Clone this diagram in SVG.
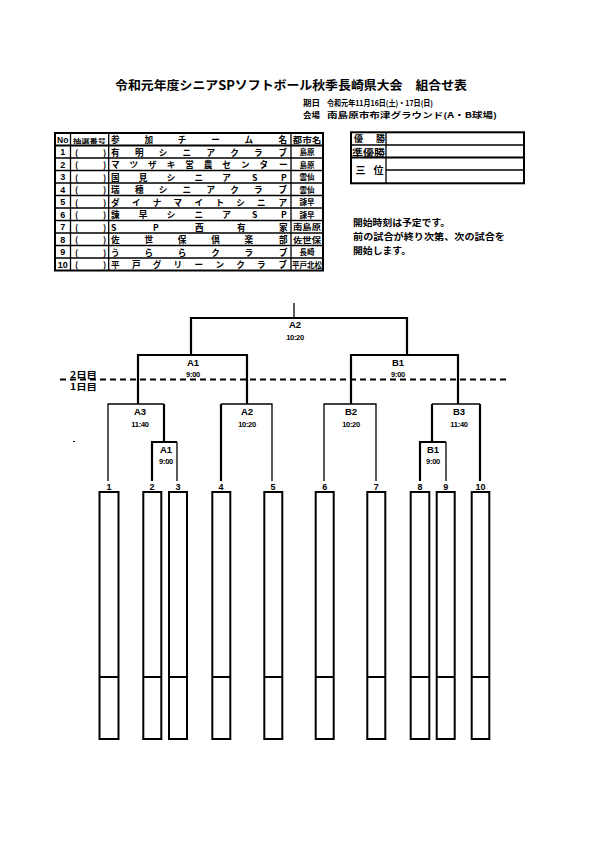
<svg xmlns="http://www.w3.org/2000/svg" width="595" height="842" viewBox="0 0 595 842">
<style>
.jp{font-family:"Noto Sans CJK JP","Noto Sans CJK SC",sans-serif;font-weight:bold;fill:#000}
.en{font-family:"Liberation Sans",Arial,sans-serif;font-weight:bold;fill:#000}
.ln{stroke:#000;fill:none;stroke-width:1.3}
.tk{stroke:#000;fill:none;stroke-width:2.2}
.bx{stroke:#000;fill:#fff;stroke-width:2}
.c{text-anchor:middle}
</style>
<rect width="595" height="842" fill="#fff"/>

<g id="title">
<text class="jp" x="115" y="90" font-size="12.5" textLength="352" lengthAdjust="spacingAndGlyphs">令和元年度シニアSPソフトボール秋季長崎県大会　組合せ表</text>
<text class="jp" x="303" y="106" font-size="7.8" textLength="17" lengthAdjust="spacingAndGlyphs">期日</text>
<text class="jp" x="327" y="106" font-size="7.8" textLength="106" lengthAdjust="spacingAndGlyphs">令和元年11月16日(土)・17日(日)</text>
<text class="jp" x="303" y="117.5" font-size="7.8" textLength="17" lengthAdjust="spacingAndGlyphs">会場</text>
<text class="jp" x="327" y="117.5" font-size="7.8" textLength="170" lengthAdjust="spacingAndGlyphs">南島原市布津グラウンド(A・B球場)</text>
</g>

<g id="team-table">
<rect x="55" y="133" width="268" height="137.5" fill="none" stroke="#000" stroke-width="2"/>
<line class="ln" x1="70.5" y1="133" x2="70.5" y2="270.5"/>
<line class="ln" x1="108.7" y1="133" x2="108.7" y2="270.5"/>
<line class="ln" x1="291" y1="133" x2="291" y2="270.5"/>
<line x1="55" y1="145.5" x2="323" y2="145.5" stroke="#000" stroke-width="1.8"/>
<g class="ln">
<line x1="55" y1="158" x2="323" y2="158"/>
<line x1="55" y1="170.5" x2="323" y2="170.5"/>
<line x1="55" y1="183" x2="323" y2="183"/>
<line x1="55" y1="195.5" x2="323" y2="195.5"/>
<line x1="55" y1="208" x2="323" y2="208"/>
<line x1="55" y1="220.5" x2="323" y2="220.5"/>
<line x1="55" y1="233" x2="323" y2="233"/>
<line x1="55" y1="245.5" x2="323" y2="245.5"/>
<line x1="55" y1="258" x2="323" y2="258"/>
</g>
<text class="en c" x="62.7" y="143" font-size="8.5">No</text>
<text class="jp c" x="89.6" y="142.5" font-size="5.5" textLength="33" lengthAdjust="spacingAndGlyphs">抽選番号</text>
<text class="jp" x="111 144.4 177.8 211.2 244.6 278.5" y="143" font-size="8.6">参加チーム名</text>
<text class="jp c" x="307" y="143" font-size="8" textLength="29" lengthAdjust="spacingAndGlyphs">都市名</text>

<g class="en c" font-size="9">
<text x="62.7" y="155">1</text>
<text x="62.7" y="167.5">2</text>
<text x="62.7" y="180">3</text>
<text x="62.7" y="192.5">4</text>
<text x="62.7" y="205">5</text>
<text x="62.7" y="217.5">6</text>
<text x="62.7" y="230">7</text>
<text x="62.7" y="242.5">8</text>
<text x="62.7" y="255">9</text>
<text x="62.7" y="267.5">10</text>
</g>
<g class="jp" font-size="8.5">
<text x="75" y="155.5">(</text><text x="103" y="155.5">)</text>
<text x="75" y="168">(</text><text x="103" y="168">)</text>
<text x="75" y="180.5">(</text><text x="103" y="180.5">)</text>
<text x="75" y="193">(</text><text x="103" y="193">)</text>
<text x="75" y="205.5">(</text><text x="103" y="205.5">)</text>
<text x="75" y="218">(</text><text x="103" y="218">)</text>
<text x="75" y="230.5">(</text><text x="103" y="230.5">)</text>
<text x="75" y="243">(</text><text x="103" y="243">)</text>
<text x="75" y="255.5">(</text><text x="103" y="255.5">)</text>
<text x="75" y="268">(</text><text x="103" y="268">)</text>
</g>
<g class="jp" font-size="8.6">
<text x="111 134.9 158.7 182.6 206.4 230.3 254.1 278.5" y="155.5">有明シニアクラブ</text>
<text x="111 129.6 148.1 166.7 185.2 203.8 222.3 240.9 259.4 279" y="168">マツザキ営農センター</text>
<text x="111 138.8 166.7 194.5 222.3 252 281" y="180.5">国見シニアSP</text>
<text x="111 134.9 158.7 182.6 206.4 230.3 254.1 278.5" y="193">瑞穂シニアクラブ</text>
<text x="111 131.9 152.8 173.6 194.5 215.4 236.3 257.1 278.5" y="205.5">ダイナマイトシニア</text>
<text x="111 138.8 166.7 194.5 222.3 252 281" y="218">諫早シニアSP</text>
<text x="111 153 195 237 279" y="230.5">SP西有家</text>
<text x="111 144.4 177.8 211.2 244.6 279" y="243">佐世保倶楽部</text>
<text x="111 144.4 177.8 211.2 244.6 279" y="255.5">うららクラブ</text>
<text x="111 131.9 152.8 173.6 194.5 215.4 236.3 257.1 278.5" y="268">平戸グリーンクラブ</text>
</g>
<g class="jp c" font-size="7.5">
<text x="307" y="155">島原</text>
<text x="307" y="167.5">島原</text>
<text x="307" y="180">雲仙</text>
<text x="307" y="192.5">雲仙</text>
<text x="307" y="205">諫早</text>
<text x="307" y="217.5">諫早</text>
<text x="307" y="230" textLength="28" lengthAdjust="spacingAndGlyphs">南島原</text>
<text x="307" y="242.5" textLength="28" lengthAdjust="spacingAndGlyphs">佐世保</text>
<text x="307" y="255">長崎</text>
<text x="307" y="267.5" textLength="30" lengthAdjust="spacingAndGlyphs">平戸北松</text>
</g>
</g>

<g id="result-table">
<rect x="351" y="132.3" width="173" height="51" fill="none" stroke="#000" stroke-width="2"/>
<line class="ln" x1="386" y1="132.3" x2="386" y2="183.3"/>
<line class="ln" x1="351" y1="145" x2="524" y2="145"/>
<line x1="351" y1="157.5" x2="524" y2="157.5" stroke="#000" stroke-width="2"/>
<line x1="386" y1="170" x2="524" y2="170" stroke="#000" stroke-width="1.5"/>
<text class="jp" x="354" y="142.4" font-size="9" textLength="31" lengthAdjust="spacing">優勝</text>
<text class="jp" x="352" y="155.6" font-size="9" textLength="33" lengthAdjust="spacingAndGlyphs">準優勝</text>
<text class="jp" x="355.5" y="174" font-size="10" textLength="28" lengthAdjust="spacing">三位</text>
</g>

<g id="note">
<text class="jp" x="353" y="226" font-size="9.3" textLength="97" lengthAdjust="spacingAndGlyphs">開始時刻は予定です。</text>
<text class="jp" x="353" y="240" font-size="9.3" textLength="152" lengthAdjust="spacingAndGlyphs">前の試合が終り次第、次の試合を</text>
<text class="jp" x="353" y="253.5" font-size="9.3" textLength="58" lengthAdjust="spacingAndGlyphs">開始します。</text>
</g>

<g id="day-divider">
<line x1="60" y1="379.5" x2="508" y2="379.5" stroke="#000" stroke-width="2" stroke-dasharray="6 4"/>
<text class="jp" x="70" y="377.5" font-size="8.2" textLength="27" lengthAdjust="spacingAndGlyphs">2日目</text>
<text class="jp" x="70" y="390" font-size="8.2" textLength="27" lengthAdjust="spacingAndGlyphs">1日目</text>
<line x1="73" y1="441.5" x2="75" y2="441.5" stroke="#000" stroke-width="1"/>
</g>

<g id="connectors">
<line class="ln" x1="294" y1="303" x2="294" y2="318"/>
<polyline class="tk" points="191,355 191,318 407,318 407,355"/>
<polyline class="tk" points="138,404 138,355 247,355 247,404"/>
<polyline class="tk" points="351,404 351,355 458,355 458,404"/>
<polyline class="ln" points="108,481 108,404 164,404"/>
<line class="tk" x1="164" y1="404" x2="164" y2="442"/>
<polyline class="tk" points="152,481 152,442 177,442"/>
<line class="ln" x1="177" y1="442" x2="177" y2="481"/>
<polyline class="ln" points="221,404 272,404 272,481"/>
<line class="tk" x1="221" y1="404" x2="221" y2="481"/>
<polyline class="ln" points="324,481 324,404 376,404 376,481"/>
<polyline class="ln" points="432,404 480,404"/>
<line class="tk" x1="480" y1="404" x2="480" y2="481"/>
<line class="tk" x1="432" y1="404" x2="432" y2="442"/>
<polyline class="tk" points="420,481 420,442 446,442"/>
<line class="ln" x1="446" y1="442" x2="446" y2="481"/>
</g>

<g id="match-labels" class="en c">
<text x="295" y="328" font-size="9.5">A2</text>
<text x="295" y="340" font-size="7.5" letter-spacing="-0.3">10:20</text>
<text x="193" y="366" font-size="9.5">A1</text>
<text x="193" y="377" font-size="7.5" letter-spacing="-0.3">9:00</text>
<text x="398" y="366" font-size="9.5">B1</text>
<text x="398" y="377" font-size="7.5" letter-spacing="-0.3">9:00</text>
<text x="140" y="415" font-size="9.5">A3</text>
<text x="140" y="427" font-size="7.5" letter-spacing="-0.3">11:40</text>
<text x="247" y="415" font-size="9.5">A2</text>
<text x="247" y="427" font-size="7.5" letter-spacing="-0.3">10:20</text>
<text x="351" y="415" font-size="9.5">B2</text>
<text x="351" y="427" font-size="7.5" letter-spacing="-0.3">10:20</text>
<text x="459" y="415" font-size="9.5">B3</text>
<text x="459" y="427" font-size="7.5" letter-spacing="-0.3">11:40</text>
<text x="166" y="453" font-size="9.5">A1</text>
<text x="166" y="464" font-size="7.5" letter-spacing="-0.3">9:00</text>
<text x="433" y="453" font-size="9.5">B1</text>
<text x="433" y="464" font-size="7.5" letter-spacing="-0.3">9:00</text>
</g>

<g id="slot-1"><text class="en c" x="109" y="489.5" font-size="9">1</text><rect class="bx" x="99.5" y="492" width="19" height="247"/><line class="bx" x1="99.5" y1="677" x2="118.5" y2="677"/></g>
<g id="slot-2"><text class="en c" x="152" y="489.5" font-size="9">2</text><rect class="bx" x="143.3" y="492" width="18" height="247"/><line class="bx" x1="143.3" y1="677" x2="161.3" y2="677"/></g>
<g id="slot-3"><text class="en c" x="178" y="489.5" font-size="9">3</text><rect class="bx" x="169" y="492" width="18" height="247"/><line class="bx" x1="169" y1="677" x2="187" y2="677"/></g>
<g id="slot-4"><text class="en c" x="221" y="489.5" font-size="9">4</text><rect class="bx" x="212.3" y="492" width="18" height="247"/><line class="bx" x1="212.3" y1="677" x2="230.3" y2="677"/></g>
<g id="slot-5"><text class="en c" x="273" y="489.5" font-size="9">5</text><rect class="bx" x="264.3" y="492" width="18" height="247"/><line class="bx" x1="264.3" y1="677" x2="282.3" y2="677"/></g>
<g id="slot-6"><text class="en c" x="324.7" y="489.5" font-size="9">6</text><rect class="bx" x="315.7" y="492" width="18" height="247"/><line class="bx" x1="315.7" y1="677" x2="333.7" y2="677"/></g>
<g id="slot-7"><text class="en c" x="376.3" y="489.5" font-size="9">7</text><rect class="bx" x="367.3" y="492" width="18" height="247"/><line class="bx" x1="367.3" y1="677" x2="385.3" y2="677"/></g>
<g id="slot-8"><text class="en c" x="420" y="489.5" font-size="9">8</text><rect class="bx" x="410.7" y="492" width="18.6" height="247"/><line class="bx" x1="410.7" y1="677" x2="429.3" y2="677"/></g>
<g id="slot-9"><text class="en c" x="445.7" y="489.5" font-size="9">9</text><rect class="bx" x="436.7" y="492" width="18" height="247"/><line class="bx" x1="436.7" y1="677" x2="454.7" y2="677"/></g>
<g id="slot-10"><text class="en c" x="480.5" y="489.5" font-size="9">10</text><rect class="bx" x="471.7" y="492" width="17.6" height="247"/><line class="bx" x1="471.7" y1="677" x2="489.3" y2="677"/></g>
</svg>
